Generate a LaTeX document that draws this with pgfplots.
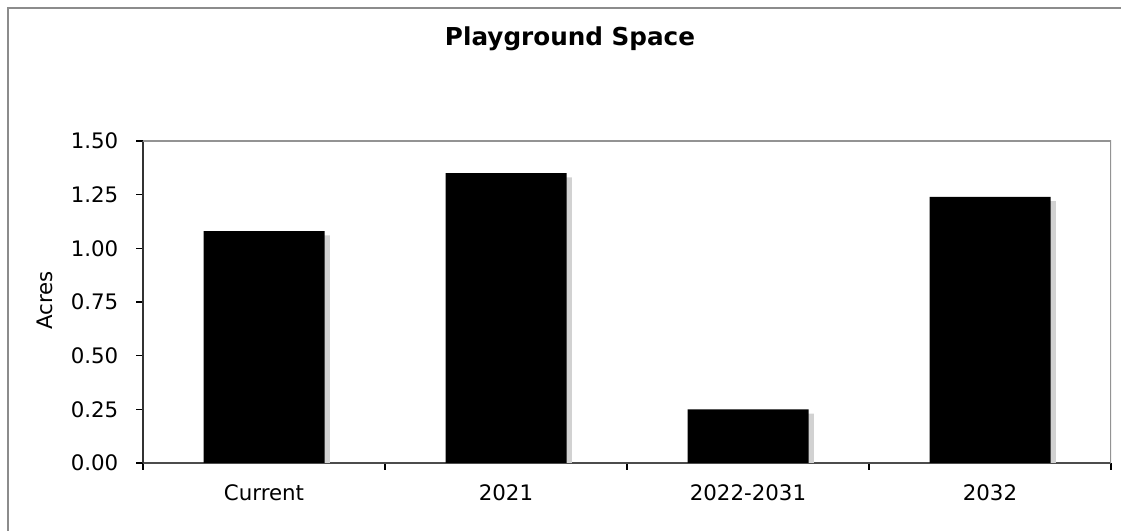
\documentclass[border=0pt]{standalone}
\usepackage{pgfplots}
\pgfplotsset{compat=1.18}
\usepackage{fontspec}
\setmainfont{DejaVu Sans}

\pgfplotstableread{
x  acres
0  1.08
1  1.35
2  0.25
3  1.24
}\playground

\begin{document}
\begin{tikzpicture}
% canvas 1121x531 px, 1px = 0.75pt
\useasboundingbox (0,0) rectangle (840.75pt,398.25pt);
\draw[gray!90, line width=1.1pt] (6pt,0) -- (6pt,392.25pt) -- (840.75pt,392.25pt);

\begin{axis}[
    at={(107.25pt,51pt)},
    anchor=south west,
    scale only axis,
    width=726pt,
    height=241.5pt,
    ymin=0, ymax=1.5,
    xmin=-0.5, xmax=3.5,
    ytick={0,0.25,...,1.5},
    xtick={-0.5,0.5,1.5,2.5,3.5},
    xticklabels={Current,2021,2022-2031,2032},
    x tick label as interval,
    axis x line*=bottom,
    axis y line*=left,
    x axis line style={gray!60!black, line width=1.2pt, -},
    y axis line style={black!80, line width=1.3pt, -},
    tick align=outside,
    major tick length=5pt,
    tick style={black, line width=0.8pt},
    yticklabel style={/pgf/number format/fixed, /pgf/number format/precision=2,
        /pgf/number format/fixed zerofill, /pgf/number format/assume math mode=true},
    ticklabel style={font=\fontsize{16}{19}\selectfont},
    xticklabel style={yshift=-7.5pt},
    yticklabel style={xshift=-10pt},
]
\addplot[ybar, bar width=90.75pt, fill=gray!35, draw=none, xshift=4pt, yshift=-3.2pt]
    table[x=x, y=acres] {\playground};
\addplot[ybar, bar width=90.75pt, fill=black, draw=none]
    table[x=x, y=acres] {\playground};
\draw[gray!85, line width=1.5pt] (rel axis cs:0,1) -- (rel axis cs:1,1) -- (rel axis cs:1,0);
\end{axis}

\node[font=\fontsize{18.5}{21}\selectfont\bfseries] at (427.5pt,369pt) {Playground Space};
\node[rotate=90, font=\fontsize{16}{19}\selectfont] at (33.75pt,173pt) {Acres};
\end{tikzpicture}
\end{document}
